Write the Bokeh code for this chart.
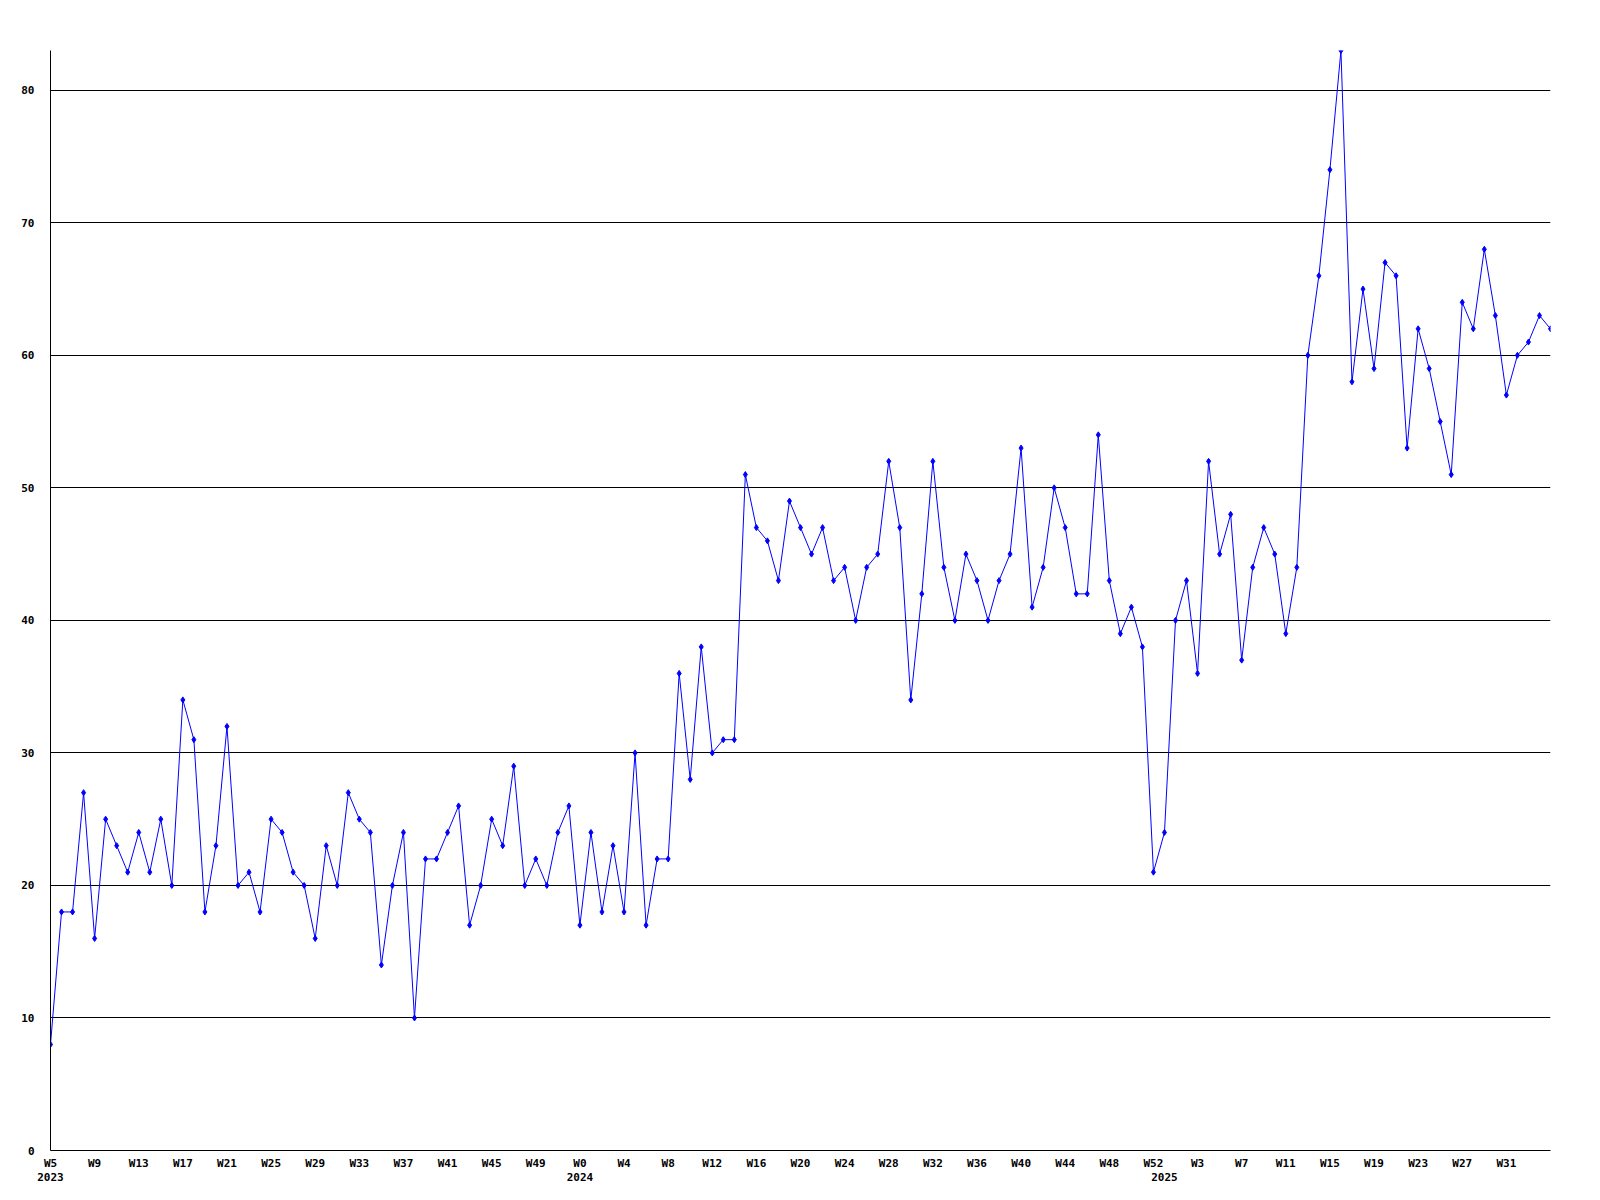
from bokeh.plotting import figure
from bokeh.models import FixedTicker, LinearAxis, Range1d
from bokeh.embed import file_html
from bokeh.resources import INLINE

# ---- data -------------------------------------------------------------
weeks_2023 = list(range(5, 53))   # W5 .. W52
weeks_2024 = list(range(0, 53))   # W0 .. W52
weeks_2025 = list(range(0, 36))   # W0 .. W35
years = ["2023", "2024", "2025"]

values = [
    8, 18, 18, 27, 16, 25, 23, 21, 24, 21, 25, 20, 34, 31, 18, 23, 32, 20, 21, 18,
    25, 24, 21, 20, 16, 23, 20, 27, 25, 24, 14, 20, 24, 10, 22, 22, 24, 26, 17, 20,
    25, 23, 29, 20, 22, 20, 24, 26, 17, 24, 18, 23, 18, 30, 17, 22, 22, 36, 28, 38,
    30, 31, 31, 51, 47, 46, 43, 49, 47, 45, 47, 43, 44, 40, 44, 45, 52, 47, 34, 42,
    52, 44, 40, 45, 43, 40, 43, 45, 53, 41, 44, 50, 47, 42, 42, 54, 43, 39, 41, 38,
    21, 24, 40, 43, 36, 52, 45, 48, 37, 44, 47, 45, 39, 44, 60, 66, 74, 83, 58, 65,
    59, 67, 66, 53, 62, 59, 55, 51, 64, 62, 68, 63, 57, 60, 61, 63, 62,
]
y_ticks = [0, 10, 20, 30, 40, 50, 60, 70, 80]

# ---- derived index / labels -------------------------------------------
week_nums = weeks_2023 + weeks_2024 + weeks_2025
week_years = ([years[0]] * len(weeks_2023) + [years[1]] * len(weeks_2024)
              + [years[2]] * len(weeks_2025))
idx = list(range(len(values)))
week_nums = week_nums[:len(values)]
week_years = week_years[:len(values)]

week_tick_idx = [i for i in idx if i % 4 == 0 and i <= len(values) - 4]
week_labels = {i: "W%d" % week_nums[i] for i in week_tick_idx}

year_tick_idx = []
for i in idx:
    if i == 0 or week_years[i] != week_years[i - 1]:
        year_tick_idx.append(i)
year_labels = {i: week_years[i] for i in year_tick_idx}

FONT = "DejaVu Sans Mono"

p = figure(
    frame_width=1500, frame_height=1100,
    x_range=Range1d(0, len(values) - 1), y_range=Range1d(0, 83),
    output_backend="svg", toolbar_location=None,
    min_border_left=50, min_border_top=50, min_border_right=30, min_border_bottom=38,
)
p.background_fill_color = "white"
p.border_fill_color = "white"
p.outline_line_color = None

p.xgrid.visible = False
p.ygrid.ticker = FixedTicker(ticks=[t for t in y_ticks if t > 0])
p.ygrid.grid_line_color = "black"
p.ygrid.grid_line_alpha = 1.0
p.ygrid.grid_line_width = 1

for ax in (p.xaxis[0], p.yaxis[0]):
    ax.axis_line_color = "black"
    ax.axis_line_width = 1
    ax.major_tick_out = 0
    ax.major_tick_in = 0
    ax.minor_tick_out = 0
    ax.minor_tick_in = 0
    ax.major_label_text_font = FONT
    ax.major_label_text_font_style = "bold"
    ax.major_label_text_font_size = "11px"
    ax.major_label_text_color = "black"

p.yaxis.ticker = FixedTicker(ticks=y_ticks)
p.yaxis.major_label_standoff = 16

p.xaxis.ticker = FixedTicker(ticks=week_tick_idx)
p.xaxis.major_label_overrides = week_labels
p.xaxis.major_label_standoff = 6

year_axis = LinearAxis(
    ticker=FixedTicker(ticks=year_tick_idx),
    major_label_overrides=year_labels,
    axis_line_color=None,
    major_tick_out=0, major_tick_in=0, minor_tick_out=0, minor_tick_in=0,
    major_label_standoff=0,
    major_label_text_font=FONT,
    major_label_text_font_style="bold",
    major_label_text_font_size="11px",
    major_label_text_color="black",
)
p.add_layout(year_axis, "below")

p.line(idx, values, line_color="#0000ff", line_width=1)
p.scatter(idx, values, marker="diamond", size=6, color="#0000ff")

open("out.html", "w").write(file_html(p, INLINE))
